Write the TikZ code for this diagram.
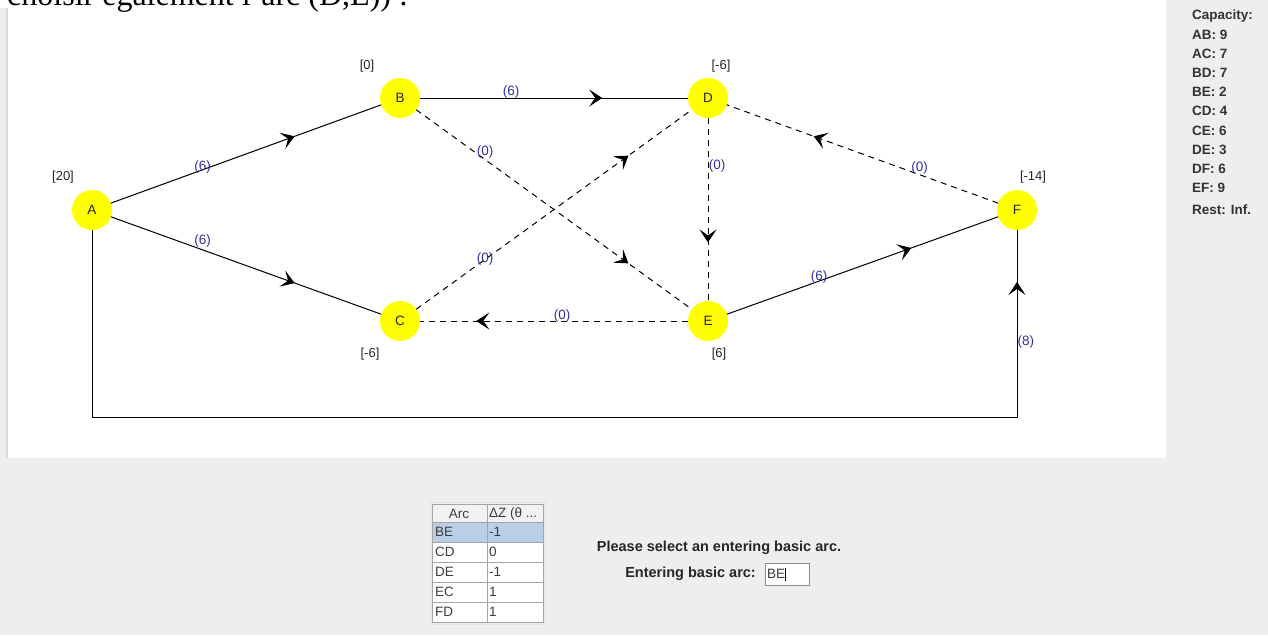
\documentclass[tikz,border=0pt]{standalone}
\usepackage{fontspec}
\setmainfont{Liberation Sans}
\newfontfamily\fonteserif{Liberation Serif}
\usetikzlibrary{arrows.meta, decorations.markings}

\definecolor{amarelo}{RGB}{255,255,0}
\definecolor{azulfluxo}{RGB}{50,50,160}
\definecolor{cinzafundo}{RGB}{238,238,238}
\definecolor{azulsel}{RGB}{184,207,229}
\definecolor{bordatab}{RGB}{165,165,165}
\definecolor{textotab}{RGB}{60,60,60}

\tikzstyle{vertice} = [circle, fill=amarelo, minimum size=40pt, inner sep=0pt, outer sep=0pt, text=black!85, font=\fontsize{13.5}{15}\selectfont]
\tikzstyle{oferta} = [inner sep=0pt, text=black!85, font=\fontsize{13}{15}\selectfont]
\tikzstyle{fluxo} = [inner sep=0pt, text=azulfluxo, font=\fontsize{13.5}{15}\selectfont]
\tikzstyle{arco} = [draw, line width=1pt]
\tikzstyle{arcotracejado} = [arco, dash pattern=on 6pt off 5pt]
\tikzstyle{capac} = [inner sep=0pt, text=black!80, align=left, font=\bfseries\fontsize{13.5}{19.2}\selectfont]
\tikzstyle{aviso} = [inner sep=0pt, text=black!85, font=\bfseries\fontsize{14.5}{17}\selectfont]
\tikzstyle{celula} = [inner sep=0pt, text=textotab, font=\fontsize{13.5}{15}\selectfont]
\tikzset{seta/.style={postaction={decorate, decoration={markings, mark=at position #1 with {\arrow{Stealth[length=13pt, width=17pt, inset=6pt]}}}}}}

\begin{document}
\begin{tikzpicture}[x=1pt, y=-1pt]
\useasboundingbox (0,0) rectangle (1268,635);

%---------------------------------------------
%Fundo da janela
%---------------------------------------------
\fill[cinzafundo] (0,0) rectangle (1268,635);
\fill[white] (8,0) rectangle (1166,458);
\fill[white] (0,0) rectangle (8,8);
\draw[black!15, line width=1.5pt] (7,8) -- (7,458);

%texto cortado no topo da página
\begin{scope}
\clip (0,0) rectangle (1268,635);
\node[anchor=base west, inner sep=0pt, font=\fonteserif\fontsize{32}{32}\selectfont] (topo) at (7,5) {choisir également l’arc (D,E)) :};
\end{scope}

%---------------------------------------------
%Vértices da rede
%---------------------------------------------
\node[vertice] (A) at (92,210) {A};
\node[vertice] (B) at (400,98) {B};
\node[vertice] (C) at (400,321) {C};
\node[vertice] (D) at (708,98) {D};
\node[vertice] (E) at (708,321) {E};
\node[vertice] (F) at (1017,210) {F};

%ofertas e demandas de cada vértice
\node[oferta] (ofA) at (63,177) {[20]};
\node[oferta] (ofB) at (367,66) {[0]};
\node[oferta] (ofC) at (370,354) {[-6]};
\node[oferta] (ofD) at (721,66) {[-6]};
\node[oferta] (ofE) at (719,354) {[6]};
\node[oferta] (ofF) at (1033,177) {[-14]};

%---------------------------------------------
%Arcos básicos (cheios) e não básicos (tracejados)
%---------------------------------------------
\path [arco, seta=0.68] (A) -- node[fluxo, pos=0.34, yshift=3pt] {(6)} (B);
\path [arco, seta=0.68] (A) -- node[fluxo, pos=0.34, yshift=9pt] {(6)} (C);
\path [arco, seta=0.68] (B) -- node[fluxo, pos=0.34, yshift=6pt] {(6)} (D);
\path [arco, seta=0.68] (E) -- node[fluxo, pos=0.34, yshift=4pt] {(6)} (F);
\path [arcotracejado, seta=0.77] (B) -- node[fluxo, pos=0.25, yshift=8pt] {(0)} (E);
\path [arcotracejado, seta=0.77] (C) -- node[fluxo, pos=0.25] {(0)} (D);
\path [arcotracejado, seta=0.68] (D) -- node[fluxo, pos=0.26, xshift=9pt] {(0)} (E);
\path [arcotracejado, seta=0.68] (F) -- node[fluxo, pos=0.29, yshift=7pt] {(0)} (D);
\path [arcotracejado, seta=0.79] (E) -- node[fluxo, pos=0.47, yshift=5pt] {(0)} (C);

%arco de retorno A -> F por baixo
\coordinate (cantoA) at (92,417);
\coordinate (cantoF) at (1017,417);
\path [arco, seta=0.96] (A) -- (cantoA) -- (cantoF) -- node[fluxo, pos=0.4, anchor=west] {(8)} (F);

%---------------------------------------------
%Capacidades dos arcos
%---------------------------------------------
\node[capac, anchor=north west] (capacidade) at (1192,10) {Capacity:\\AB: 9\\AC: 7\\BD: 7\\BE: 2\\CD: 4\\CE: 6\\DE: 3\\DF: 6\\EF: 9\\[3pt]Rest: Inf.};

%---------------------------------------------
%Tabela de arcos candidatos
%---------------------------------------------
\fill[white] (432,504) rectangle (543,622);
\fill[black!5] (432,504) rectangle (543,522);
\fill[azulsel] (432,522) rectangle (543,542);
\draw[bordatab] (432,504) rectangle (543,622);
\draw[bordatab] (487,504) -- (487,622);
\draw[bordatab] (432,522) -- (543,522);
\draw[bordatab] (432,542) -- (543,542);
\draw[bordatab] (432,562) -- (543,562);
\draw[bordatab] (432,582) -- (543,582);
\draw[bordatab] (432,602) -- (543,602);
\draw[black!12] (430,502) rectangle (545,624);

\node[celula] (cabArc) at (459,514) {Arc};
\node[celula, anchor=west] (cabDZ) at (489,514) {ΔZ (θ ...};
\node[celula, anchor=west] (arc1) at (435,532) {BE};
\node[celula, anchor=west] (dz1) at (489,532) {-1};
\node[celula, anchor=west] (arc2) at (435,552) {CD};
\node[celula, anchor=west] (dz2) at (489,552) {0};
\node[celula, anchor=west] (arc3) at (435,572) {DE};
\node[celula, anchor=west] (dz3) at (489,572) {-1};
\node[celula, anchor=west] (arc4) at (435,592) {EC};
\node[celula, anchor=west] (dz4) at (489,592) {1};
\node[celula, anchor=west] (arc5) at (435,612) {FD};
\node[celula, anchor=west] (dz5) at (489,612) {1};

%---------------------------------------------
%Mensagem e campo de entrada
%---------------------------------------------
\node[aviso] (pedido) at (719,548) {Please select an entering basic arc.};
\node[aviso, anchor=east] (rotulo) at (756,574) {Entering basic arc:};
\node[draw=black!45, fill=white, minimum width=44pt, minimum height=22pt, inner sep=0pt] (entrada) at (787,574) {};
\node[celula, anchor=west] (valor) at ([xshift=2pt]entrada.west) {BE{\color{black}\rule[-2pt]{0.8pt}{13pt}}};

\end{tikzpicture}
\end{document}
